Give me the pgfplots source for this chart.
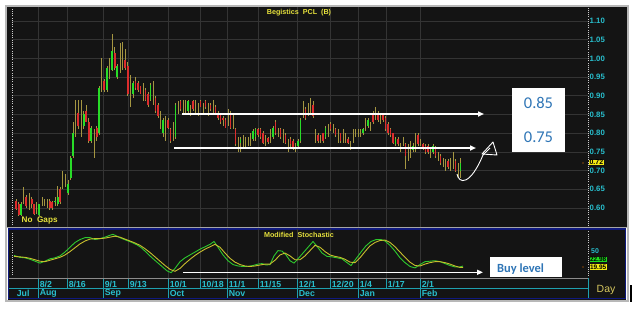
\documentclass[border=0pt]{standalone}
\usepackage{pgfplots}
\pgfplotsset{compat=1.18}
\usepackage{pgfplotstable}
\usetikzlibrary{arrows.meta}
\usepackage{fontspec}
\setmainfont{Liberation Sans}
\newfontfamily\carlito{Carlito}
\newcommand\fs[1]{\fontsize{#1}{#1}\selectfont}

\definecolor{bgc}{RGB}{20,20,20}
\definecolor{gridc}{RGB}{52,52,52}
\definecolor{wick}{RGB}{165,150,65}
\definecolor{upc}{RGB}{40,220,40}
\definecolor{dnc}{RGB}{220,45,45}
\definecolor{cyanl}{RGB}{40,190,205}
\definecolor{teal2}{RGB}{30,160,175}
\definecolor{yel}{RGB}{230,225,60}
\definecolor{navy2}{RGB}{15,25,125}
\definecolor{boxblue}{RGB}{46,117,182}
\definecolor{stochg}{RGB}{45,200,45}
\definecolor{stochy}{RGB}{200,190,45}
\definecolor{dayc}{RGB}{215,200,95}

\pgfplotstableread{
x o h l c
16 .620 .625 .595 .598
18.6 .610 .615 .578 .582
21.2 .582 .615 .578 .610
23.8 .615 .655 .610 .615
26.4 .630 .635 .600 .605
29 .615 .640 .595 .615
31.6 .625 .630 .600 .610
34.2 .610 .612 .580 .585
36.8 .600 .615 .585 .600
39.4 .582 .612 .578 .610
42 .615 .630 .605 .615
44.6 .615 .625 .605 .615
47.2 .615 .625 .600 .615
49.8 .620 .625 .595 .600
52.4 .615 .620 .595 .600
55 .615 .630 .605 .620
57.6 .610 .660 .605 .630
60.2 .650 .655 .610 .615
62.8 .660 .700 .650 .660
65.4 .675 .690 .655 .675
68 .640 .675 .635 .665
70.6 .680 .740 .675 .735
73.2 .740 .830 .735 .800
75.8 .840 .890 .790 .840
78.4 .855 .890 .810 .820
81 .850 .890 .790 .850
83.6 .820 .860 .810 .850
86.2 .860 .875 .830 .830
88.8 .830 .840 .775 .780
91.4 .780 .820 .775 .815
94 .800 .810 .735 .800
96.6 .815 .820 .780 .790
99.2 .800 .925 .795 .920
101.8 .950 1.000 .910 .950
104.4 .940 .945 .910 .915
107 .915 .980 .910 .975
109.6 .960 1.000 .945 .960
112.2 .970 1.065 .965 1.020
114.8 1.015 1.030 .970 .975
117.4 .950 .985 .945 .980
120 .990 1.040 .960 .990
122.6 1.000 1.045 .970 1.000
125.2 .995 1.025 .970 .975
127.8 .980 .990 .900 .905
130.4 .920 .955 .870 .920
133 .905 .940 .895 .935
135.5 .940 .950 .915 .920
138 .935 .940 .910 .915
140.5 .925 .925 .905 .905
143 .910 .935 .885 .910
145.5 .915 .920 .885 .890
148 .905 .910 .870 .875
150.5 .890 .935 .885 .930
153 .910 .940 .875 .910
155.5 .895 .900 .855 .860
158 .875 .880 .840 .845
160.5 .840 .860 .810 .840
163 .800 .840 .790 .835
165.5 .820 .845 .780 .820
168 .835 .840 .810 .815
170.5 .810 .815 .775 .780
173 .800 .830 .780 .800
175.5 .790 .880 .785 .875
178 .870 .885 .850 .870
180.5 .885 .890 .860 .865
183 .870 .890 .855 .870
185.5 .875 .890 .850 .875
188 .860 .890 .855 .885
190.5 .870 .875 .845 .870
193 .885 .890 .860 .865
195.5 .870 .890 .850 .870
198 .865 .880 .845 .865
200.5 .885 .890 .870 .870
203 .870 .880 .850 .870
205.5 .885 .890 .865 .870
208 .870 .880 .845 .870
210.5 .875 .880 .860 .865
213 .870 .890 .850 .870
215.5 .870 .875 .850 .850
218 .855 .860 .835 .840
220.5 .850 .855 .825 .830
223 .840 .845 .820 .835
225.5 .835 .840 .815 .815
228 .850 .865 .820 .850
230.5 .850 .860 .810 .815
233 .830 .855 .810 .830
235.5 .810 .815 .765 .770
238 .780 .790 .750 .780
240.5 .775 .790 .750 .785
243 .780 .795 .760 .780
245.5 .775 .790 .760 .775
248 .780 .790 .765 .780
250.5 .780 .800 .765 .780
253 .785 .810 .780 .805
255.5 .790 .815 .780 .810
258 .810 .815 .790 .795
260.5 .810 .815 .785 .790
263 .800 .805 .770 .775
265.5 .790 .795 .765 .790
268 .787 .790 .770 .776
270.5 .790 .810 .775 .790
273 .790 .820 .785 .815
275.5 .830 .835 .795 .800
278 .800 .815 .790 .800
280.5 .810 .815 .785 .790
283 .800 .810 .775 .800
285.5 .795 .800 .770 .775
288 .770 .785 .750 .770
290.5 .785 .790 .760 .770
293 .780 .785 .755 .760
295.5 .770 .775 .750 .770
298 .765 .785 .760 .780
300.5 .780 .840 .775 .835
303 .860 .885 .840 .860
305.5 .865 .870 .835 .840
308 .860 .880 .845 .860
310.5 .870 .895 .855 .870
313 .875 .885 .840 .845
315.5 .790 .810 .775 .790
318 .795 .800 .775 .780
320.5 .790 .795 .775 .790
323 .800 .800 .775 .780
325.5 .790 .820 .785 .815
328 .810 .825 .790 .810
330.5 .825 .830 .805 .810
333 .810 .825 .800 .810
335.5 .810 .815 .790 .795
338 .800 .810 .775 .800
340.5 .800 .800 .775 .780
343 .790 .810 .775 .790
345.5 .790 .800 .775 .790
348 .785 .790 .770 .775
350.5 .770 .780 .755 .770
353 .790 .810 .775 .790
355.5 .800 .810 .790 .800
358 .800 .810 .790 .800
360.5 .800 .810 .790 .800
363 .800 .815 .795 .810
365.5 .820 .840 .805 .820
368 .820 .840 .815 .835
370.5 .820 .830 .805 .820
373 .855 .860 .825 .830
375.5 .850 .870 .835 .850
378 .855 .860 .830 .835
380.5 .840 .855 .825 .840
383 .850 .855 .830 .835
385.5 .840 .845 .805 .810
388 .825 .830 .795 .800
390.5 .810 .815 .790 .795
393 .800 .800 .770 .775
395.5 .770 .790 .765 .785
398 .785 .790 .765 .770
400.5 .765 .775 .750 .765
403 .775 .790 .765 .775
405.5 .770 .775 .705 .740
408 .760 .770 .725 .760
410.5 .765 .780 .735 .765
413 .755 .775 .750 .765
415.5 .770 .800 .750 .770
418 .795 .800 .765 .770
420.5 .775 .785 .765 .775
423 .770 .775 .755 .760
425.5 .765 .770 .745 .750
428 .765 .770 .745 .750
430.5 .750 .760 .735 .750
433 .750 .770 .745 .765
435.5 .760 .765 .735 .740
438 .740 .750 .725 .740
440.5 .740 .745 .715 .720
443 .725 .735 .710 .725
445.5 .715 .730 .700 .715
448 .725 .730 .705 .710
450.5 .720 .735 .700 .720
453 .725 .750 .705 .725
455.5 .725 .730 .695 .700
458 .710 .720 .680 .710
460.5 .700 .735 .680 .720
}\candles

\pgfplotstableread{
x k
14 45
20 41
25 40
30 37
35 33
40 29
45 33
50 38
55 40
60 44
65 52
70 62
75 72
80 78
85 82
90 82
95 78
100 80
105 83
110 87
113 89
117 85
122 80
127 76
132 72
137 67
142 60
147 50
152 40
157 31
162 22
167 13
171 9
175 18
180 32
185 40
190 46
195 52
200 58
205 63
210 68
214 74
218 62
223 46
228 34
233 26
238 23
243 22
248 22
253 24
258 27
262 28
266 25
270 26
274 44
278 55
282 54
286 46
290 34
294 29
298 38
303 50
308 62
313 74
317 64
322 50
327 43
332 42
337 40
342 38
347 30
351 24
356 38
361 52
366 65
371 74
376 78
381 78
385 75
390 66
395 54
400 40
405 30
410 22
415 19
420 26
425 32
430 33
435 34
440 32
445 28
450 24
455 21
460 21
463 23
}\stochk

\pgfplotstableread{
x d
14 43
20 42
25 41
30 39
35 36
40 33
45 32
50 35
55 38
60 41
65 46
70 53
75 61
80 69
85 75
90 79
95 80
100 80
105 81
110 83
115 85
120 83
125 79
130 75
135 71
140 66
145 59
150 51
155 42
160 33
165 24
170 16
175 12
180 18
185 28
190 37
195 45
200 52
205 58
210 63
215 68
220 62
225 50
230 39
235 31
240 26
245 23
250 22
255 23
260 25
265 27
270 27
275 35
280 46
285 50
290 44
295 36
300 36
305 44
310 55
315 66
320 62
325 53
330 46
335 43
340 41
345 37
350 31
355 30
360 40
365 53
370 65
375 72
380 76
385 77
390 72
395 63
400 52
405 41
410 31
415 24
420 23
425 27
430 30
435 32
440 32
445 30
450 27
455 23
460 20
463 20
}\stochd

\begin{document}
\begin{tikzpicture}[x=1bp,y=1bp]
% canvas and frames
\fill[white] (0,0) rectangle (638,312);
\draw[black!28, line width=2bp] (6,11) rectangle (628,306);
\fill[bgc] (7,85) rectangle (627,305);
\fill[bgc] (8,12) rectangle (626,83.5);
\draw[black!35, line width=1.2bp] (7,84.6) -- (627,84.6);
\draw[navy2, line width=1.2bp] (8.6,13.6) rectangle (625.4,83);
\fill[black] (629.5,10) rectangle (631.5,27);

% main price axis
\begin{axis}[at={(12bp,85bp)}, anchor=south west, scale only axis,
  width=576bp, height=220bp,
  xmin=12, xmax=588, ymin=0.5492, ymax=1.1374,
  axis line style={draw=none},
  xtick={38,67,103,128,168,200,227,258,297,330,358,386,420},
  xticklabels={},
  ytick={0.60,0.65,0.70,0.75,0.80,0.85,0.90,0.95,1.00,1.05,1.10},
  yticklabel pos=right,
  /pgf/number format/assume math mode=true,
  y tick label style={/pgf/number format/fixed, /pgf/number format/fixed zerofill,
    /pgf/number format/precision=2, font=\bfseries\fs{7.8}, text=cyanl, anchor=west, inner sep=1.5bp},
  major tick length=0pt, tick style={draw=none},
  grid=major, major grid style={draw=gridc, line width=0.6bp},
]
\addplot[draw=none, mark=none, forget plot,
  error bars/.cd, y dir=both, y explicit, error mark=none,
  error bar style={draw=wick, solid, line width=0.85bp}]
  table[x=x, y expr={(\thisrow{h}+\thisrow{l})/2}, y error expr={(\thisrow{h}-\thisrow{l})/2}] {\candles};
\addplot[draw=none, mark=none, forget plot,
  error bars/.cd, y dir=both, y explicit, error mark=none,
  error bar style={draw=upc, solid, line width=1.9bp}]
  table[x=x, y expr={(\thisrow{o}+\thisrow{c})/2}, y error expr={max(\thisrow{c}-\thisrow{o},0)/2}] {\candles};
\addplot[draw=none, mark=none, forget plot,
  error bars/.cd, y dir=both, y explicit, error mark=none,
  error bar style={draw=dnc, solid, line width=1.9bp}]
  table[x=x, y expr={(\thisrow{o}+\thisrow{c})/2}, y error expr={max(\thisrow{o}-\thisrow{c},0)/2}] {\candles};
\end{axis}

% stochastic axis
\begin{axis}[at={(12bp,34bp)}, anchor=south west, scale only axis,
  width=576bp, height=49bp,
  xmin=12, xmax=588, ymin=-2, ymax=100,
  axis line style={draw=none},
  xtick={38,67,103,128,168,200,227,258,297,330,358,386,420},
  xticklabels={}, ytick=\empty,
  major tick length=0pt, tick style={draw=none},
  xmajorgrids, major grid style={draw=gridc, line width=0.6bp},
]
\addplot[stochg, line width=0.9bp] table[x=x, y=k] {\stochk};
\addplot[stochy, line width=0.9bp] table[x=x, y=d] {\stochd};
\end{axis}

% dotted axis lines
\draw[white!80!black, line width=0.9bp, dash pattern=on 0.7bp off 1.5bp] (12,87) -- (12,303);
\draw[white!80!black, line width=0.9bp, dash pattern=on 0.7bp off 1.5bp] (588,86) -- (588,305);
\draw[white!80!black, line width=0.9bp, dash pattern=on 0.7bp off 1.5bp] (12,37) -- (12,80);
\draw[white!80!black, line width=0.9bp, dash pattern=on 0.7bp off 1.5bp] (588,36) -- (588,82);
\draw[black!45, line width=1bp] (9,34) -- (588,34);

% date strip
\draw[teal2, line width=0.7bp] (9,23.7) -- (588,23.7);
\draw[teal2, line width=0.7bp] (588,14) -- (588,34);
\foreach \t in {67,128,200,258,330,386} {\draw[teal2, line width=0.7bp] (\t,23.7) -- (\t,33.5);}
\foreach \t in {38,103,168,227,297,358,420} {\draw[teal2, line width=0.7bp] (\t,14) -- (\t,33.5);}
\begin{scope}[every node/.style={anchor=west, inner sep=0pt, text=cyanl, font=\bfseries\fs{8.8}}]
\foreach \t/\l in {38/8\slash2,67/8\slash16,103/9\slash1,128/9\slash13,168/10\slash1,200/10\slash18,227/11\slash1,258/11\slash15,297/12\slash1,330/12\slash20,358/1\slash4,386/1\slash17,420/2\slash1}
  {\node at (\t+1.6,27.8) {\l};}
\foreach \t/\l in {15/Jul,38/Aug,103/Sep,168/Oct,227/Nov,297/Dec,358/Jan,420/Feb}
  {\node at (\t+1.6,18.7) {\l};}
\end{scope}
\node[text=dayc, font=\fs{10.5}, anchor=center] at (606,22) {Day};

% titles
\node[text=yel, font=\bfseries\fs{7.2}] at (299,299) {Begistics\ \ PCL\ \ (B)};
\node[text=yel, font=\bfseries\fs{8.2}, anchor=west, inner sep=0pt] at (21.5,91.5) {No\ \ Gaps};
\node[text=yel, font=\bfseries\fs{7.2}] at (299,77) {Modified\ \ Stochastic};

% right value tags
\node[fill={rgb,255:red,245;green,235;blue,20}, text=black, inner sep=0.4bp, font=\bfseries\fs{7}, anchor=west] at (589,149.5) {0.72};
\fill[orange] (583,149) circle (0.7bp);
\node[text=cyanl, inner sep=0pt, font=\bfseries\fs{7}, anchor=west] at (591,60.5) {50};
\node[fill={rgb,255:red,30;green,220;blue,30}, text=black, inner sep=0.3bp, font=\bfseries\fs{6.5}, anchor=west] at (589.5,52.8) {22.98};
\node[fill={rgb,255:red,245;green,235;blue,20}, text=black, inner sep=0.3bp, font=\bfseries\fs{6.5}, anchor=west] at (589.5,45) {19.95};
\fill[orange] (583,45) circle (0.7bp);

% annotations
\draw[white, line width=1.6bp, -{Triangle[length=6bp,width=5bp]}] (182,198) -- (484,198);
\draw[white, line width=1.6bp, -{Triangle[length=6bp,width=5bp]}] (174,164) -- (476,164);
\draw[white, line width=1.6bp, -{Triangle[length=6bp,width=5bp]}] (183,39.7) -- (483,39.7);
\draw[white, line width=0.9bp] (457,138) .. controls (459,128) and (470,126) .. (483,157);
\draw[white, line width=0.9bp, line join=round] (482,158) -- (493,170) -- (497,157) -- cycle;
\draw[white, line width=0.9bp] (483,157) -- (490,164);
\fill[white] (512,160) rectangle (565,224);
\node[text=boxblue, font=\carlito\fs{16.5}] at (538.5,209) {0.85};
\node[text=boxblue, font=\carlito\fs{16.5}] at (538.5,175) {0.75};
\fill[white] (490,35) rectangle (562,55);
\node[text=boxblue, font=\carlito\bfseries\fs{12.5}, anchor=west, inner sep=0pt] at (497,43) {Buy level};

\pgfresetboundingbox
\path[use as bounding box] (0,0) rectangle (638,312);
\end{tikzpicture}
\end{document}
